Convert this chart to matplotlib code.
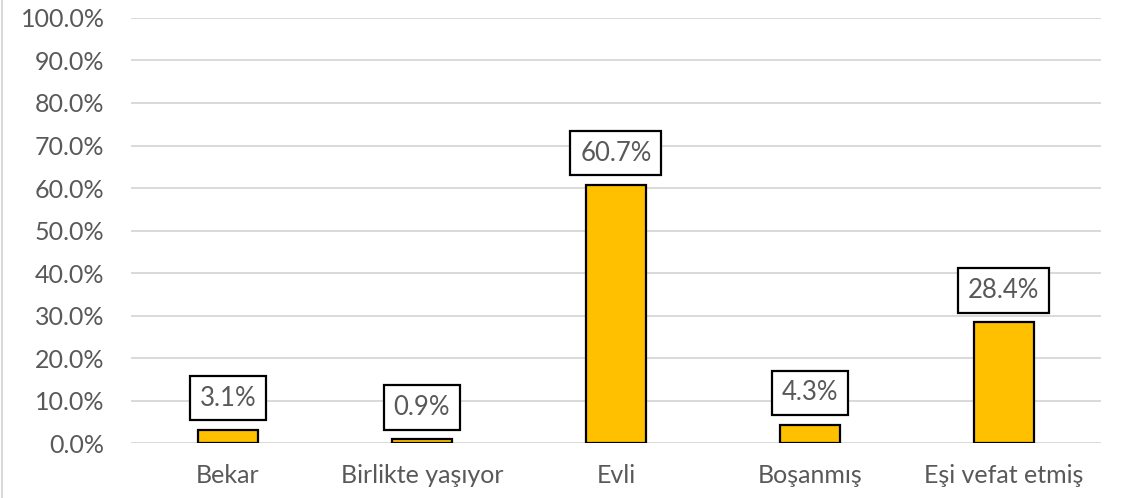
import numpy as np
import matplotlib.pyplot as plt
from matplotlib.lines import Line2D
from matplotlib.ticker import PercentFormatter

kategoriler = ["Bekar", "Birlikte yaşıyor", "Evli", "Boşanmış", "Eşi vefat etmiş"]
oranlar = [3.1, 0.9, 60.7, 4.3, 28.4]
etiketler = ["3.1%", "0.9%", "60.7%", "4.3%", "28.4%"]
y_ticks = [0, 10, 20, 30, 40, 50, 60, 70, 80, 90, 100]

plt.rcParams["font.family"] = ["Lato", "DejaVu Sans"]
gri = "#595959"

fig = plt.figure(figsize=(11.28, 4.98), dpi=100)
ax = fig.add_axes([0.116, 0.110, 0.860, 0.854])

x = np.arange(len(kategoriler))
ax.bar(x, oranlar, width=0.31, color="#FFC000", edgecolor="black", linewidth=1.6, zorder=3)

for xi, v, lab in zip(x, oranlar, etiketler):
    ax.annotate(lab, (xi, v), xytext=(0, 32), textcoords="offset pixels",
                ha="center", va="center", fontsize=18.5, color=gri, zorder=4,
                bbox=dict(boxstyle="square,pad=0.38", fc="white", ec="black", lw=1.6))

ax.set_xlim(-0.5, len(kategoriler) - 0.5)
ax.set_ylim(0, 100)
ax.set_yticks(y_ticks)
ax.yaxis.set_major_formatter(PercentFormatter(decimals=1))
ax.set_xticks(x)
ax.set_xticklabels(kategoriler)
ax.tick_params(axis="both", length=0, labelsize=18, labelcolor=gri)
ax.tick_params(axis="x", pad=15)
ax.tick_params(axis="y", pad=19)
ax.grid(axis="y", color="#D9D9D9", linewidth=1.4, zorder=0)
for s in ax.spines.values():
    s.set_visible(False)

# sol kenardaki ince cizgi
fig.add_artist(Line2D([0.002, 0.002], [0, 1], color="#D9D9D9", linewidth=1.5, transform=fig.transFigure))

fig.savefig("out.png", dpi=100)
